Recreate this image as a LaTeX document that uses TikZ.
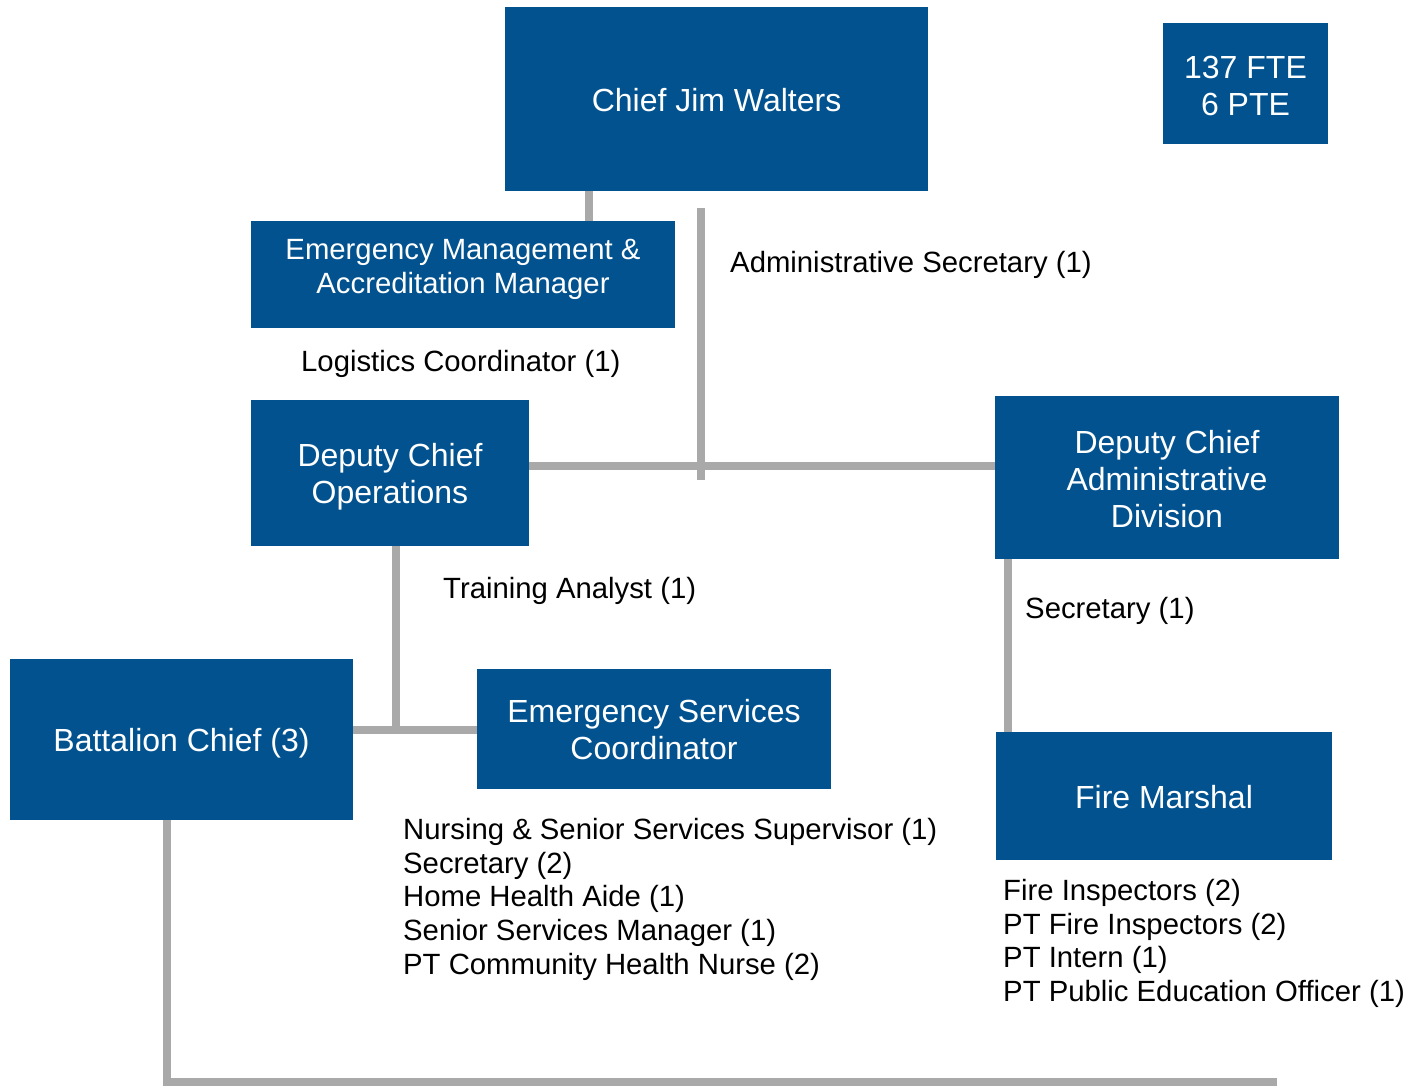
\documentclass[tikz,border=0pt]{standalone}
\usepackage{fontspec}
\setmainfont{Liberation Sans}
\definecolor{boxblue}{RGB}{2,82,143}
\definecolor{linegray}{RGB}{169,169,169}
\begin{document}
\begin{tikzpicture}[x=1pt,y=-1pt,
  box/.style={fill=boxblue,draw=none,inner sep=0pt},
  bt/.style={text=white,align=center,inner sep=0pt,font=\fontsize{32}{37}\selectfont},
  sbt/.style={bt,font=\fontsize{29.3}{34}\selectfont},
  conn/.style={draw=linegray,line width=8pt},
  lbl/.style={anchor=base west,inner sep=0pt,font=\fontsize{29.3}{34}\selectfont}]
\useasboundingbox (0,0) rectangle (1421,1086);
% boxes
\node[box,minimum width=423pt,minimum height=184pt,
  label={[bt,yshift=-1pt]center:Chief Jim Walters}] (chief) at (716.5,99) {};
\node[box,minimum width=165pt,minimum height=121pt,
  label={[bt,yshift=-2pt]center:137 FTE\\6 PTE}] (fte) at (1245.5,83.5) {};
\node[box,minimum width=424pt,minimum height=107pt,
  label={[sbt,yshift=5pt]center:Emergency Management \&\\Accreditation Manager}] (em) at (463,274.5) {};
\node[box,minimum width=278pt,minimum height=146pt,
  label={[bt,yshift=-4pt]center:Deputy Chief\\Operations}] (ops) at (390,473) {};
\node[box,minimum width=344pt,minimum height=163pt,
  label={[bt,yshift=-2pt]center:Deputy Chief\\Administrative\\Division}] (adm) at (1167,477.5) {};
\node[box,minimum width=343pt,minimum height=161pt,
  label={[bt,yshift=-4pt]center:Battalion Chief (3)}] (bat) at (181.5,739.5) {};
\node[box,minimum width=354pt,minimum height=120pt,
  label={[bt,yshift=-1pt]center:Emergency Services\\Coordinator}] (esc) at (654,729) {};
\node[box,minimum width=336pt,minimum height=128pt,
  label={[bt,yshift=-1pt]center:Fire Marshal}] (fm) at (1164,796) {};
% helper coordinates
\coordinate (x589) at (589,0);
\coordinate (x396) at (396,0);
\coordinate (x1008) at (1008,0);
\coordinate (x167) at (167,0);
\coordinate (y466) at (0,466);
\coordinate (y730) at (0,730);
\coordinate (a1) at (701,208);
\coordinate (a2) at (701,480);
\coordinate (bend) at (1277,1082);
% connectors
\draw[conn] (chief.south -| x589) -- (em.north -| x589);
\draw[conn] (a1) -- (a2);
\draw[conn] (ops.east |- y466) -- (adm.west |- y466);
\draw[conn] (ops.south -| x396) -- (x396 |- y730);
\draw[conn] (bat.east |- y730) -- (esc.west |- y730);
\draw[conn] (adm.south -| x1008) -- (fm.north -| x1008);
\draw[conn] (bat.south -| x167) |- (bend);
% labels
\node[lbl] (l1) at (730,272.5) {Administrative Secretary (1)};
\node[lbl] (l2) at (301,371.5) {Logistics Coordinator (1)};
\node[lbl] (l3) at (443,598.5) {Training Analyst (1)};
\node[lbl] (l4) at (1025,618.5) {Secretary (1)};
\node[lbl] (e1) at (403,839.5) {Nursing \& Senior Services Supervisor (1)};
\node[lbl] (e2) at (403,873.2) {Secretary (2)};
\node[lbl] (e3) at (403,906.9) {Home Health Aide (1)};
\node[lbl] (e4) at (403,940.6) {Senior Services Manager (1)};
\node[lbl] (e5) at (403,974.3) {PT Community Health Nurse (2)};
\node[lbl] (f1) at (1003,900.5) {Fire Inspectors (2)};
\node[lbl] (f2) at (1003,934) {PT Fire Inspectors (2)};
\node[lbl] (f3) at (1003,967.5) {PT Intern (1)};
\node[lbl] (f4) at (1003,1001) {PT Public Education Officer (1)};
\end{tikzpicture}
\end{document}
